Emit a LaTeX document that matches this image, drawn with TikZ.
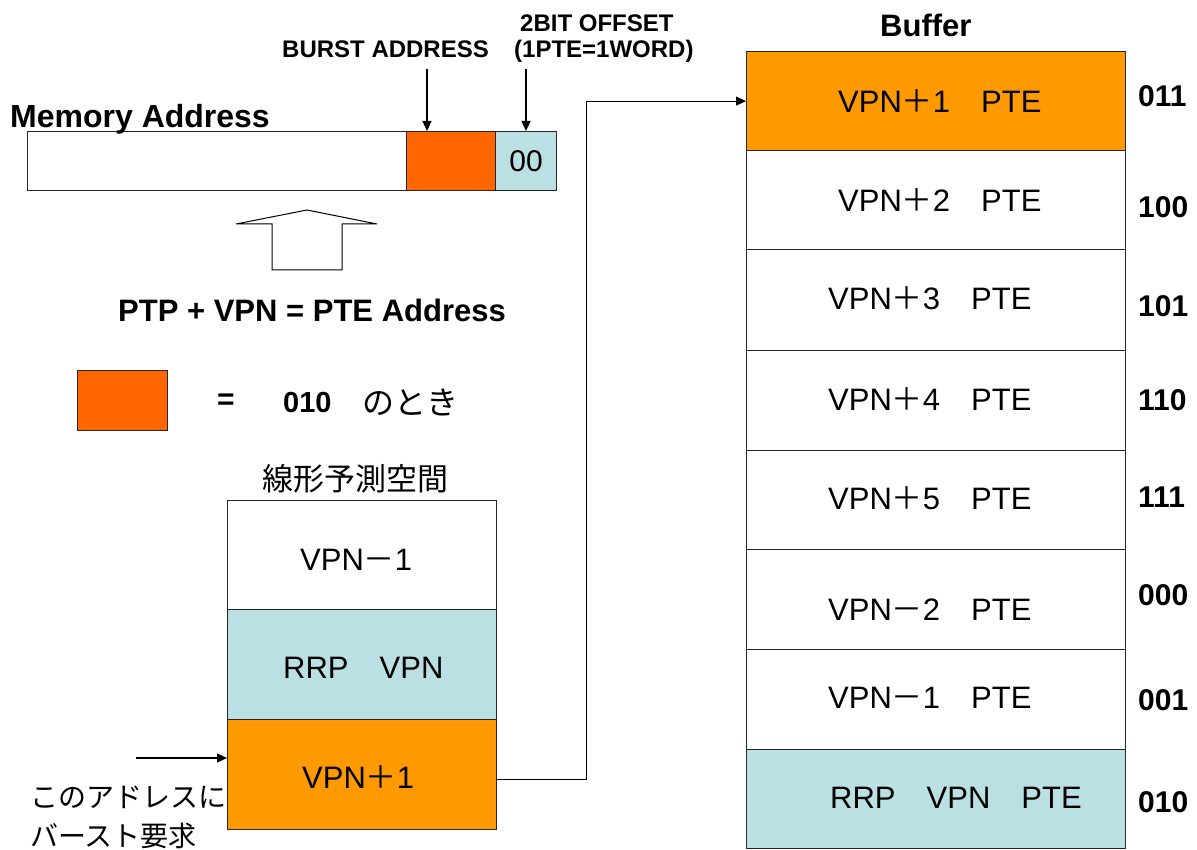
\documentclass[tikz,border=0pt]{standalone}
\usepackage{fontspec}
\setmainfont{Liberation Sans}
\newfontfamily\cjk{Noto Sans CJK JP}
\usetikzlibrary{arrows.meta}
\definecolor{orgA}{HTML}{FF6600}
\definecolor{orgB}{HTML}{FF9900}
\definecolor{lblue}{HTML}{BBE0E3}
\newcommand{\fsz}[1]{\fontsize{#1}{#1}\selectfont}
\newcommand{\zp}{{\cjk ＋}}
\newcommand{\zm}{{\cjk －}}
\newcommand{\zs}{{\cjk 　}}
\begin{document}
\begin{tikzpicture}[x=1pt,y=-1pt,
 box/.style={draw=black!85,line width=1.2pt,inner sep=0pt,anchor=north west},
 txt/.style={inner sep=0pt,anchor=base west},
 arr/.style={-{Triangle[length=10pt,width=9pt]},line width=1.2pt},
 lbl/.style={txt,font=\bfseries\fsz{24}},
 cell/.style={txt,font=\fsz{31}},
 bits/.style={txt,font=\bfseries\fsz{30}},
]
\useasboundingbox (0,0) rectangle (1197,850);

% Memory address bar
\node[box,minimum width=379pt,minimum height=59pt] (mw) at (27,131) {};
\node[box,fill=orgA,minimum width=89pt,minimum height=59pt] (mo) at (406,131) {};
\node[box,fill=lblue,minimum width=61pt,minimum height=59pt] (mb) at (495,131) {};
\node[inner sep=0pt,font=\fsz{30}] (mbt) at (mb.center) {00};
\node[txt,font=\bfseries\fsz{32}] (mtitle) at (10,128) {Memory Address};

\node[lbl] (burst) at (282,58) {BURST ADDRESS};
\node[lbl] (off1) at (520,32) {2BIT OFFSET};
\node[lbl] (off2) at (514,58) {(1PTE=1WORD)};
\coordinate (ba) at (427,69);
\coordinate (oa) at (526,69);
\draw[arr] (ba) -- (ba |- mo.north);
\draw[arr] (oa) -- (oa |- mb.north);

% hollow up arrow
\draw[line width=1pt] (307,210) -- (377,224) -- (342,224) -- (342,270) -- (272,270) -- (272,224) -- (236,224) -- cycle;

\node[txt,font=\bfseries\fsz{31}] (ptp) at (118,322) {PTP + VPN = PTE Address};

% legend
\node[box,fill=orgA,minimum width=90pt,minimum height=60pt] (leg) at (77,370) {};
\node[inner sep=0pt,font=\bfseries\fsz{30}] (legeq) at (226,402) {=};
\node[txt,font=\bfseries\fsz{29}] (legv) at (283,412) {010};
\node[inner sep=0pt,anchor=west,font=\cjk\fsz{32}] (legt) at (362,402) {のとき};

% linear prediction space
\node[inner sep=0pt,font=\cjk\fsz{31}] (sttitle) at (355,479) {線形予測空間};
\node[box,minimum width=269pt,minimum height=109pt] (st1) at (227,500) {};
\node[box,fill=lblue,minimum width=269pt,minimum height=110pt] (st2) at (227,609) {};
\node[box,fill=orgB,minimum width=269pt,minimum height=110pt] (st3) at (227,719) {};
\node[cell] (st1t) at (300,570) {VPN\zm 1};
\node[cell] (st2t) at (283,678) {RRP\zs VPN};
\node[cell] (st3t) at (302,788) {VPN\zp 1};

\coordinate (rq) at (136,758);
\draw[arr] (rq) -- (rq -| st3.west);
\node[inner sep=0pt,anchor=west,font=\cjk\fsz{28}] (req1) at (30,797) {このアドレスに};
\node[inner sep=0pt,anchor=west,font=\cjk\fsz{28}] (req2) at (30,836) {バースト要求};

% buffer
\node[txt,font=\bfseries\fsz{31}] (buftitle) at (880,37) {Buffer};
\node[box,fill=orgB,minimum width=379pt,minimum height=99pt] (b1) at (746,51) {};
\node[box,minimum width=379pt,minimum height=99pt] (b2) at (746,150) {};
\node[box,minimum width=379pt,minimum height=101pt] (b3) at (746,249) {};
\node[box,minimum width=379pt,minimum height=100pt] (b4) at (746,350) {};
\node[box,minimum width=379pt,minimum height=99pt] (b5) at (746,450) {};
\node[box,minimum width=379pt,minimum height=100pt] (b6) at (746,549) {};
\node[box,minimum width=379pt,minimum height=100pt] (b7) at (746,649) {};
\node[box,fill=lblue,minimum width=379pt,minimum height=99pt] (b8) at (746,749) {};

\node[cell] (b1t) at (838,113) {VPN\zp 1\zs PTE};
\node[cell] (b2t) at (838,212) {VPN\zp 2\zs PTE};
\node[cell] (b3t) at (828,310) {VPN\zp 3\zs PTE};
\node[cell] (b4t) at (828,410) {VPN\zp 4\zs PTE};
\node[cell] (b5t) at (828,509) {VPN\zp 5\zs PTE};
\node[cell] (b6t) at (828,620) {VPN\zm 2\zs PTE};
\node[cell] (b7t) at (828,708) {VPN\zm 1\zs PTE};
\node[cell] (b8t) at (830,808) {RRP\zs VPN\zs PTE};

\node[bits] (l1) at (1138,107) {011};
\node[bits] (l2) at (1138,218) {100};
\node[bits] (l3) at (1138,317) {101};
\node[bits] (l4) at (1138,410) {110};
\node[bits] (l5) at (1138,507) {111};
\node[bits] (l6) at (1138,605) {000};
\node[bits] (l7) at (1138,710) {001};
\node[bits] (l8) at (1138,812) {010};

% connector from VPN+1 to buffer
\coordinate (c1) at (586,779);
\draw[arr,line width=1pt] (c1 -| st3.east) -- (c1) |- (b1.west);
\end{tikzpicture}
\end{document}
